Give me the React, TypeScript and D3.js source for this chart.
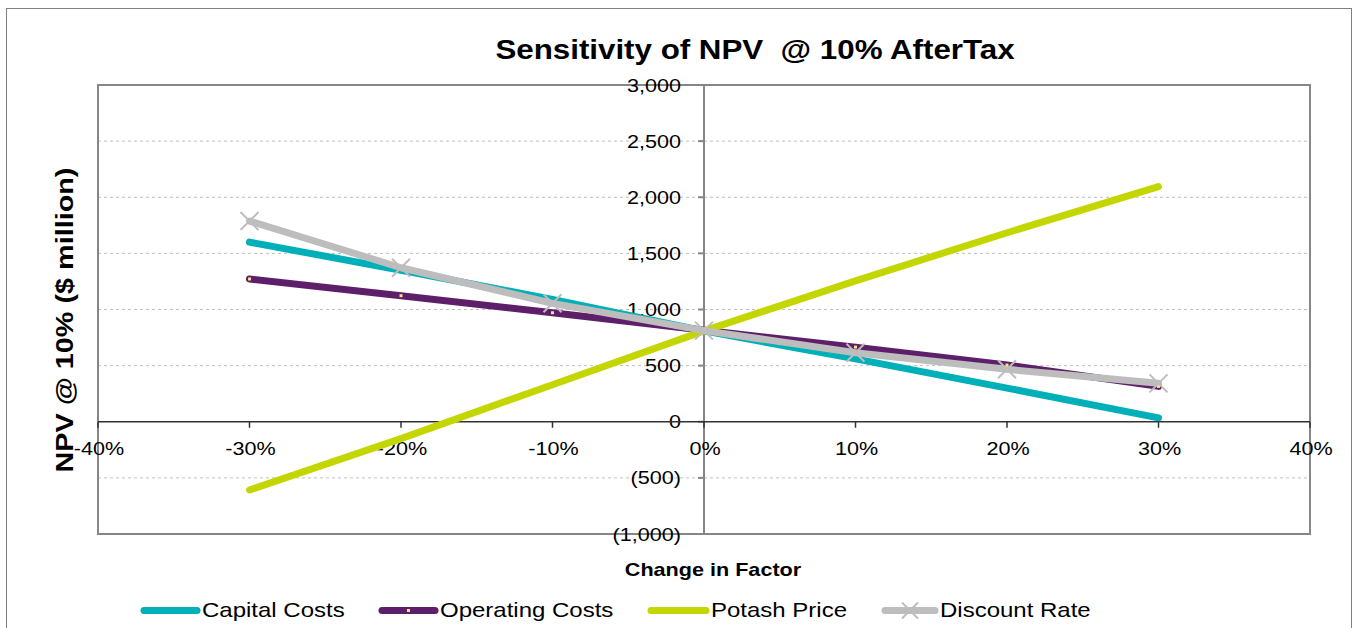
import React from "react";
import * as d3 from "d3";

const factors = [-30, -20, -10, 0, 10, 20, 30];
const capitalCosts = [1600, 1350, 1090, 810, 560, 300, 35];
const operatingCosts = [1272, 1123, 971, 815, 665, 505, 315];
const potashPrice = [-608, -150, 330, 810, 1255, 1684, 2094];
const discountRate = [1788, 1372, 1055, 812, 615, 467, 342];
const xTicks = [-40, -30, -20, -10, 0, 10, 20, 30, 40];
const yTicks = [-1000, -500, 0, 500, 1000, 1500, 2000, 2500, 3000];

const seriesNames = ["Capital Costs", "Operating Costs", "Potash Price", "Discount Rate"];
const seriesColors = ["#00B0B9", "#5E1F6A", "#C4D600", "#BDBDBD"];

const W = 1353;
const H = 628;
const FONT = "'Liberation Sans', Arial, sans-serif";

function fmtY(v: number) {
  const s = d3.format(",")(Math.abs(v));
  return v < 0 ? `(${s})` : s;
}

function T(props: {
  x: number;
  y: number;
  size: number;
  anchor?: string;
  bold?: boolean;
  rotate?: number;
  sx?: number;
  children: React.ReactNode;
}) {
  const { x, y, size, anchor = "start", bold = false, rotate = 0, sx = 1.2, children } = props;
  return (
    <text
      transform={`translate(${x},${y}) rotate(${rotate}) scale(${sx},1)`}
      textAnchor={anchor}
      fontFamily={FONT}
      fontSize={size}
      fontWeight={bold ? "bold" : "normal"}
      fill="#000"
      style={{ whiteSpace: "pre" }}
    >
      {children}
    </text>
  );
}

export default function App() {
  const x = d3.scaleLinear().domain([-40, 40]).range([98, 1310]);
  const y = d3.scaleLinear().domain([-1000, 3000]).range([534, 85]);
  const line = d3
    .line<number>()
    .x((_, i) => x(factors[i]))
    .y((d) => y(d));
  const allSeries = [capitalCosts, operatingCosts, potashPrice, discountRate];
  const legendX = [141, 379, 648, 882];
  const legendW = [59, 59, 61, 56];
  const ly = 610.5;

  return (
    <svg width={W} height={H} style={{ position: "absolute", left: 0, top: 0, background: "#fff" }}>
      <rect x={6.5} y={8.5} width={1345} height={640} fill="#fff" stroke="#808080" strokeWidth={1} />
      <T x={755} y={59} size={27} anchor="middle" bold sx={1.16}>
        {"Sensitivity of NPV  @ 10% AfterTax"}
      </T>
      {/* gridlines */}
      {yTicks
        .filter((t) => t !== 0 && t !== 3000 && t !== -1000)
        .map((t) => (
          <line key={t} x1={x(-40)} x2={x(40)} y1={y(t)} y2={y(t)} stroke="#BFBFBF" strokeWidth={1} strokeDasharray="3,3" />
        ))}
      {/* plot border */}
      <rect x={x(-40)} y={y(3000)} width={x(40) - x(-40)} height={y(-1000) - y(3000)} fill="none" stroke="#868686" strokeWidth={2} />
      {/* y axis at x=0 */}
      <line x1={x(0)} x2={x(0)} y1={y(3000)} y2={y(-1000)} stroke="#868686" strokeWidth={2} />
      {yTicks.map((t) => (
        <g key={t}>
          <line x1={x(0) - 6} x2={x(0)} y1={y(t)} y2={y(t)} stroke="#868686" strokeWidth={2} />
          <T x={x(0) - 23} y={y(t) + 6.5} size={18} anchor="end">
            {fmtY(t)}
          </T>
        </g>
      ))}
      {/* x axis at y=0 */}
      <line x1={x(-40)} x2={x(40)} y1={y(0)} y2={y(0)} stroke="#333" strokeWidth={1.5} />
      {xTicks.map((t) => (
        <g key={t}>
          <line x1={x(t)} x2={x(t)} y1={y(0)} y2={y(0) + 6} stroke="#333" strokeWidth={1.5} />
          <T x={x(t) + 1} y={y(0) + 33} size={18} anchor="middle">
            {`${t}%`}
          </T>
        </g>
      ))}
      {/* series */}
      {allSeries.map((s, si) => (
        <path
          key={si}
          d={line(s) || ""}
          fill="none"
          stroke={seriesColors[si]}
          strokeWidth={7}
          strokeLinecap="round"
          strokeLinejoin="round"
        />
      ))}
      {operatingCosts.map((v, i) => (
        <rect key={i} x={x(factors[i]) - 1.5} y={y(v) - 1.5} width={3} height={3} fill="#FFE07A" />
      ))}
      {discountRate.map((v, i) => {
        const cx = x(factors[i]);
        const cy = y(v);
        const r = 9;
        return (
          <g key={i} stroke="#BDBDBD" strokeWidth={2}>
            <line x1={cx - r} y1={cy - r} x2={cx + r} y2={cy + r} />
            <line x1={cx - r} y1={cy + r} x2={cx + r} y2={cy - r} />
          </g>
        );
      })}
      {/* axis titles */}
      <T x={73} y={320} size={24} anchor="middle" bold rotate={-90}>
        NPV @ 10% ($ million)
      </T>
      <T x={713} y={576} size={18} anchor="middle" bold>
        Change in Factor
      </T>
      {/* legend */}
      {seriesNames.map((n, i) => (
        <g key={n}>
          <line
            x1={legendX[i] + 3}
            x2={legendX[i] + legendW[i] - 3}
            y1={ly}
            y2={ly}
            stroke={seriesColors[i]}
            strokeWidth={7}
            strokeLinecap="round"
          />
          {i === 1 && <rect x={legendX[i] + legendW[i] / 2 - 1.5} y={ly - 1.5} width={3} height={3} fill="#FFE07A" />}
          {i === 3 && (
            <g stroke="#BDBDBD" strokeWidth={2}>
              <line x1={legendX[i] + legendW[i] / 2 - 8} y1={ly - 8} x2={legendX[i] + legendW[i] / 2 + 8} y2={ly + 8} />
              <line x1={legendX[i] + legendW[i] / 2 - 8} y1={ly + 8} x2={legendX[i] + legendW[i] / 2 + 8} y2={ly - 8} />
            </g>
          )}
          <T x={legendX[i] + legendW[i] + 2} y={617} size={20}>
            {n}
          </T>
        </g>
      ))}
    </svg>
  );
}
